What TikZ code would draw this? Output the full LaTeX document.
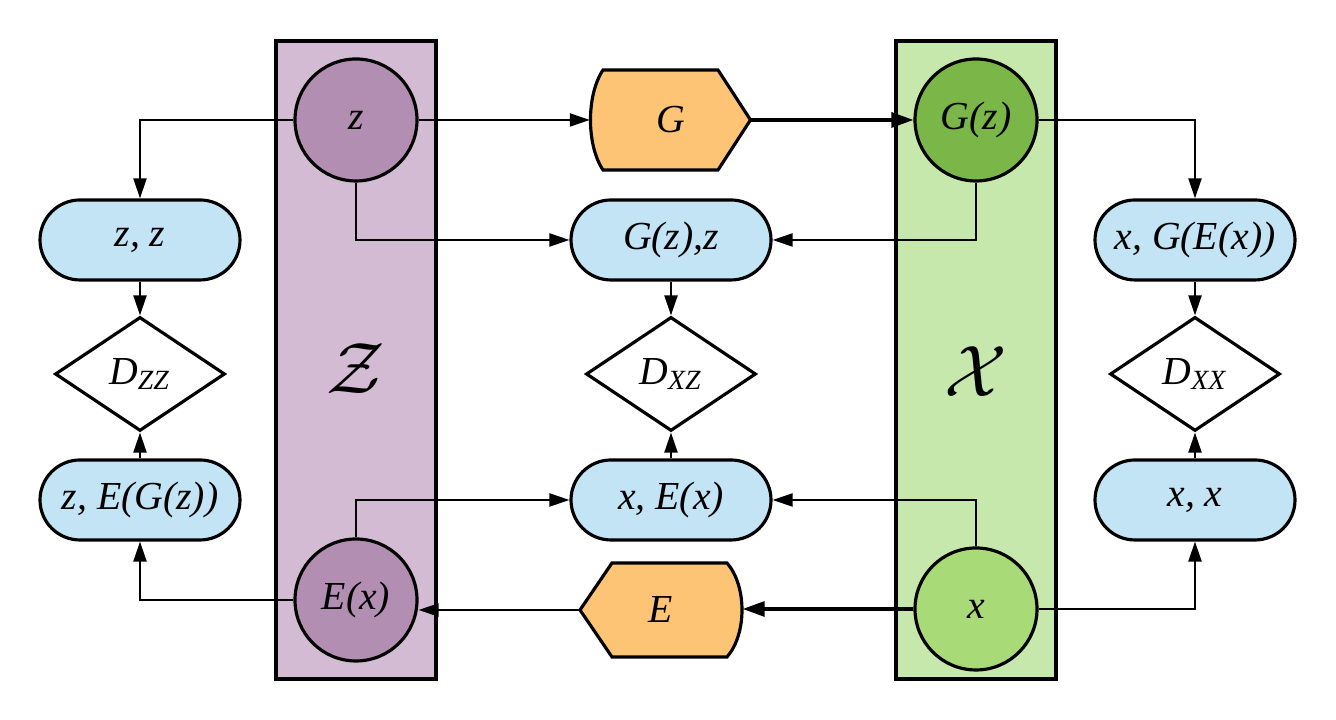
\documentclass[tikz,border=0pt]{standalone}
\usepackage{fontspec}
\setmainfont{Liberation Serif}
\usepackage{tikz}
\usetikzlibrary{shapes.geometric, arrows.meta, positioning, calc}
\definecolor{zband}{RGB}{211,188,211}
\definecolor{zcirc}{RGB}{178,142,178}
\definecolor{xband}{RGB}{199,232,173}
\definecolor{gzcirc}{RGB}{122,182,72}
\definecolor{xcirc}{RGB}{168,218,120}
\definecolor{netfill}{RGB}{253,196,118}
\definecolor{pairfill}{RGB}{195,228,245}
\newcommand{\lblfont}{\fontsize{11.3}{13}\selectfont\itshape}
\tikzset{
  band/.style={rectangle, draw=black, line width=1pt},
  latent/.style={circle, draw=black, fill=zcirc, minimum size=1.22cm,
    inner sep=0pt, font=\lblfont, line width=0.9pt},
  pairnode/.style={rectangle, draw=black, fill=pairfill, minimum width=2cm,
    minimum height=0.8cm, rounded corners=0.4cm, font=\lblfont, line width=0.9pt},
  discnode/.style={diamond, draw=black, fill=white, minimum width=1.7cm,
    minimum height=1.14cm, inner sep=0pt, font=\lblfont, line width=0.9pt},
  netshape/.style={draw=black, fill=netfill, line width=0.9pt},
  netnode/.style={rectangle, minimum width=1.6cm, minimum height=1cm, font=\lblfont},
  arrow/.style={-{Triangle[length=2mm, width=1.3mm]}, line width=0.6pt},
  thickarrow/.style={-{Triangle[length=2.2mm, width=1.5mm]}, line width=0.9pt},
  line/.style={line width=0.6pt}
}

\begin{document}
\begin{tikzpicture}
  \useasboundingbox (0,0) rectangle (13.36,7.20);
  % Latent and data spaces
  \draw[band, fill=zband] (2.76,0.41) rectangle (4.36,6.79);
  \draw[band, fill=xband] (8.96,0.41) rectangle (10.56,6.79);
  \node[font=\fontsize{20}{24}\selectfont] (Zsp) at (3.56,3.51) {$\mathcal{Z}$};
  \node[font=\fontsize{20}{24}\selectfont] (Xsp) at (9.76,3.48) {$\mathcal{X}$};

  % Samples
  \node[latent] (z) at (3.56,6.00) {z};
  \node[latent] (Ex) at (3.56,1.20) {E(x)};
  \node[latent, fill=gzcirc] (Gz) at (9.76,6.00) {G(z)};
  \node[latent, fill=xcirc] (x) at (9.76,1.11) {x};

  % Generator
  \coordinate (Gc) at (6.705,6.00);
  \draw[netshape] ($(Gc)+(-0.675,0.5)$) -- ($(Gc)+(0.475,0.5)$) -- ($(Gc)+(0.80,0)$)
    -- ($(Gc)+(0.475,-0.5)$) -- ($(Gc)+(-0.675,-0.5)$)
    .. controls ($(Gc)+(-0.842,-0.25)$) and ($(Gc)+(-0.842,0.25)$) .. cycle;
  \node[netnode] (G) at (Gc) {G};
  % Encoder
  \coordinate (Ec) at (6.61,1.10);
  \draw[netshape] ($(Ec)+(-0.81,0)$) -- ($(Ec)+(-0.49,0.47)$) -- ($(Ec)+(0.66,0.47)$)
    .. controls ($(Ec)+(0.86,0.24)$) and ($(Ec)+(0.86,-0.24)$) .. ($(Ec)+(0.66,-0.47)$)
    -- ($(Ec)+(-0.49,-0.47)$) -- cycle;
  \node[netnode, minimum width=1.62cm, minimum height=0.94cm] (E) at (Ec) {E};

  % Pairs
  \node[pairnode] (zz) at (1.40,4.80) {z, z};
  \node[pairnode] (Gzz) at (6.71,4.80) {G(z),z};
  \node[pairnode] (xGEx) at (11.95,4.80) {x, G(E(x))};
  \node[pairnode] (zEGz) at (1.40,2.20) {z, E(G(z))};
  \node[pairnode] (xEx) at (6.71,2.20) {x, E(x)};
  \node[pairnode] (xx) at (11.95,2.20) {x, x};

  % Discriminators
  \node[discnode] (Dzz) at (1.40,3.46) {D\textsubscript{ZZ}};
  \node[discnode] (Dxz) at (6.71,3.46) {D\textsubscript{XZ}};
  \node[discnode] (Dxx) at (11.95,3.46) {D\textsubscript{XX}};

  % Connections
  \draw[arrow] (z.east) -- (G.west);
  \draw[thickarrow] (G.east) -- (Gz.west);
  \draw[thickarrow] (x.west) -- (x.west -| E.east);
  \draw[arrow] (E.west) -- (E.west -| Ex.east);
  \draw[arrow] (z.west) -| (zz.north);
  \draw[arrow] (z.south) |- (Gzz.west);
  \draw[arrow] (Gz.south) |- (Gzz.east);
  \draw[arrow] (Gz.east) -| (xGEx.north);
  \draw[arrow] (Ex.west) -| (zEGz.south);
  \draw[arrow] (Ex.north) |- (xEx.west);
  \draw[arrow] (x.north) |- (xEx.east);
  \draw[arrow] (x.east) -| (xx.south);
  \foreach \p/\d in {zz/Dzz, Gzz/Dxz, xGEx/Dxx}
    \draw[arrow] (\p.south) -- (\d.north);
  \foreach \p/\d in {zEGz/Dzz, xEx/Dxz, xx/Dxx}
    \draw[arrow] (\p.north) -- (\d.south);
\end{tikzpicture}
\end{document}
